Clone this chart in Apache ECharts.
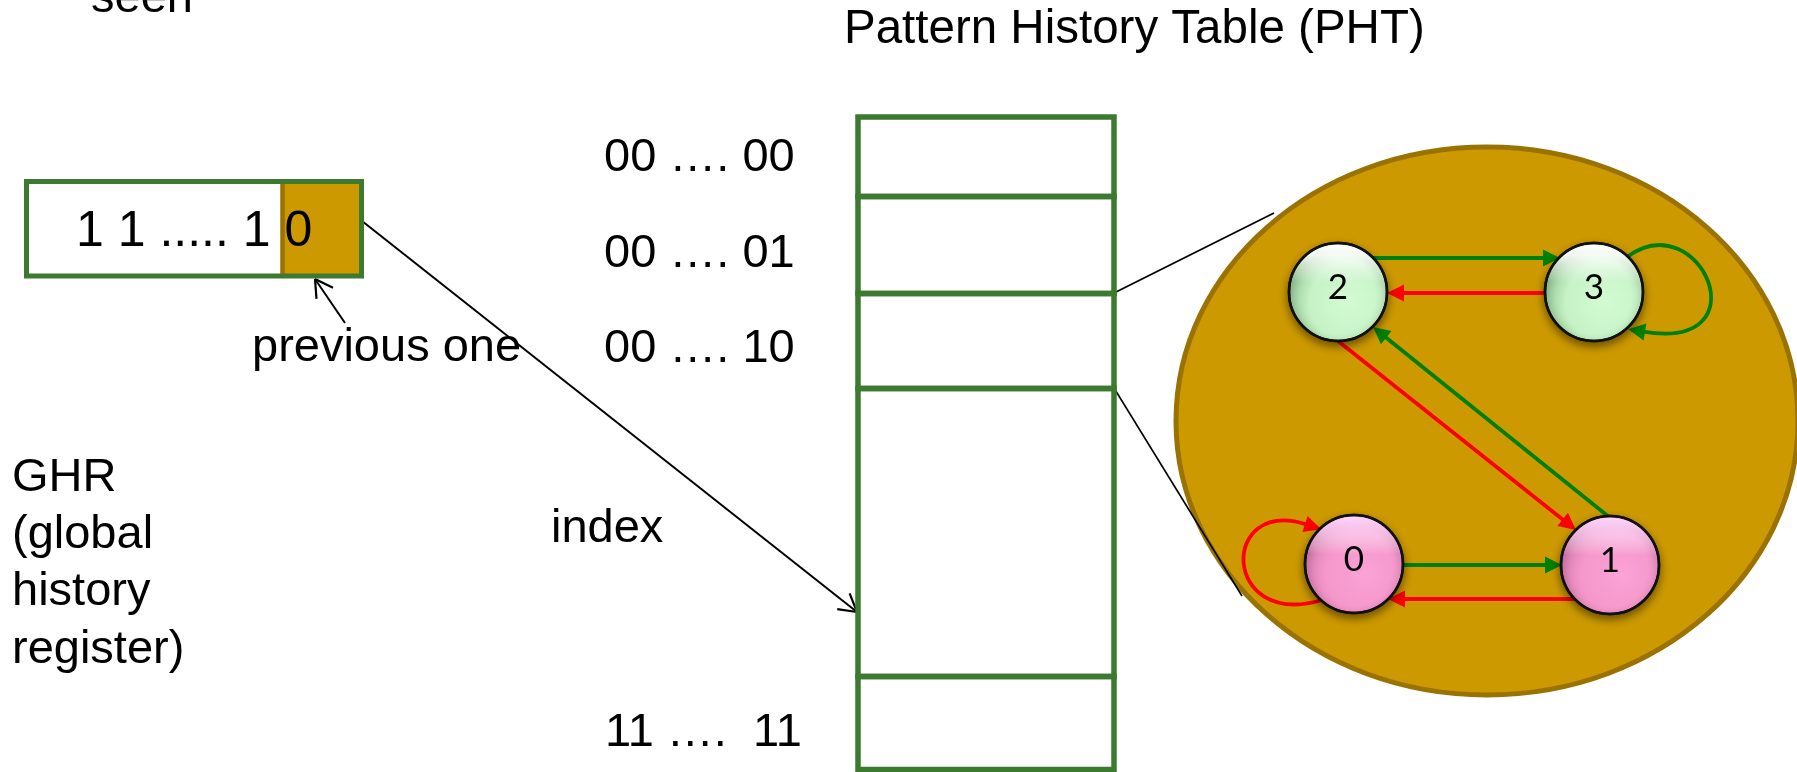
<!DOCTYPE html>
<html>
<head>
<meta charset="utf-8">
<script src="https://cdn.jsdelivr.net/npm/echarts@6.0.0/dist/echarts.min.js"></script>
<style>
html,body{margin:0;padding:0;background:#ffffff;}
#chart{width:1797px;height:772px;}
</style>
</head>
<body>
<div id="chart"></div>
<script>
// ---------------- DATA (diagram coordinates on hidden value axes) ----------------
const canvasW = 1797, canvasH = 772;

// Free text labels: text, left x, baseline y
const labelTexts = ['seen', 'Pattern History Table (PHT)', 'previous one',
  '00 …. 00', '00 …. 01', '00 …. 10', 'index', '11 ….  11',
  'GHR', '(global', 'history', 'register)'];
const labelX = [91, 844, 252, 604, 604, 604, 551, 605, 12, 12, 12, 12];
const labelY = [14, 45, 363, 173, 269, 364, 544, 748, 493, 550, 607, 665];

// Global history register content
const ghrBits = '1 1 ..... 1 0';
const ghrTextPos = [76, 248];
const ghrBox = [26.5, 181.5, 361.5, 276];   // x0, y0, x1, y1
const ghrLastBitX = 282.5;                  // start of the most recent bit cell

// Pattern history table rows (boundaries)
const phtX = [858, 1114];
const phtRowEdges = [117, 196.5, 293.5, 388.5, 676.5, 769.5];

// Pointer lines: [x1, y1, x2, y2], with open arrow head or plain
const pointerFrom = [[345, 323], [362, 221], [1114, 293], [1114, 388]];
const pointerTo   = [[315, 279], [857, 612], [1274, 213], [1242, 596]];
const pointerHead = [true, true, false, false];

// Zoomed state machine (2-bit saturating counter)
const zoomEllipse = [1487, 421, 311, 274];  // cx, cy, rx, ry
const stateLabels = ['0', '1', '2', '3'];
const statePrediction = ['N', 'N', 'T', 'T'];
const stateCX = [1354, 1610, 1338, 1594];
const stateCY = [564, 565, 292, 292];
const stateR = 49;

// Transitions: outcome T (taken, green) / N (not taken, red)
const edgeOutcome = ['T', 'N', 'T', 'N', 'N', 'T'];
const edgeStart = [[1372, 258], [1546, 293], [1609, 517], [1338, 341], [1575, 599], [1402, 565]];
const edgeEnd   = [[1560, 258], [1387, 293], [1373, 327], [1576, 530], [1388, 599], [1562, 565]];

// Self loops (cubic bezier: start, cp1, cp2, end)
const loopOutcome = ['T', 'N'];
const loopCurves = [
  [[1627, 257], [1700, 203], [1765, 352], [1645, 332]],
  [[1322, 600], [1221, 630], [1219, 496], [1305, 524]]
];

// ---------------- RENDERING ----------------
const FONT = '"Liberation Sans", Arial, Helvetica, sans-serif';
const GREEN_BOX = '#3b7a2f';
const GOLD = '#cc9900';
const GOLD_DARK = '#9a7200';
const EDGE_COLOR = { T: '#008000', N: '#ff0000' };

function P(api, x, y) { return api.coord([x, y]); }

function arrowHead(tip, ux, uy, len, half, color) {
  const bx = tip[0] - ux * len, by = tip[1] - uy * len;
  return {
    type: 'polygon',
    shape: { points: [[tip[0], tip[1]], [bx - uy * half, by + ux * half], [bx + uy * half, by - ux * half]] },
    style: { fill: color }
  };
}

const chart = echarts.init(document.getElementById('chart'), null, { renderer: 'canvas' });

const option = {
  animation: false,
  backgroundColor: '#ffffff',
  grid: { left: 0, right: 0, top: 0, bottom: 0 },
  xAxis: { type: 'value', min: 0, max: canvasW, show: false },
  yAxis: { type: 'value', min: 0, max: canvasH, inverse: true, show: false },
  tooltip: { show: false },
  series: [
    // zoom ellipse
    {
      type: 'custom', coordinateSystem: 'cartesian2d', silent: true, z: 1,
      data: [zoomEllipse],
      renderItem: (params, api) => {
        const c = P(api, api.value(0), api.value(1));
        const e = P(api, api.value(0) + api.value(2), api.value(1) + api.value(3));
        return {
          type: 'ellipse',
          shape: { cx: c[0], cy: c[1], rx: e[0] - c[0], ry: e[1] - c[1] },
          style: { fill: GOLD, stroke: GOLD_DARK, lineWidth: 5 }
        };
      }
    },
    // pointer lines
    {
      type: 'custom', coordinateSystem: 'cartesian2d', silent: true, z: 2,
      data: pointerFrom.map((f, i) => [f[0], f[1], pointerTo[i][0], pointerTo[i][1]]),
      renderItem: (params, api) => {
        const a = P(api, api.value(0), api.value(1));
        const b = P(api, api.value(2), api.value(3));
        const head = pointerHead[params.dataIndex];
        const children = [{
          type: 'line', shape: { x1: a[0], y1: a[1], x2: b[0], y2: b[1] },
          style: { stroke: '#000', lineWidth: head ? 2 : 1.6 }
        }];
        if (head) {
          const dx = a[0] - b[0], dy = a[1] - b[1];
          const ang = Math.atan2(dy, dx), len = 20, w = Math.PI / 6;
          [ang - w, ang + w].forEach(t => children.push({
            type: 'line',
            shape: { x1: b[0], y1: b[1], x2: b[0] + Math.cos(t) * len, y2: b[1] + Math.sin(t) * len },
            style: { stroke: '#000', lineWidth: 2.2 }
          }));
        }
        return { type: 'group', children };
      }
    },
    // PHT rows
    {
      type: 'custom', coordinateSystem: 'cartesian2d', silent: true, z: 3,
      data: phtRowEdges.slice(0, -1).map((y, i) => [phtX[0], y, phtX[1], phtRowEdges[i + 1]]),
      renderItem: (params, api) => {
        const a = P(api, api.value(0), api.value(1));
        const b = P(api, api.value(2), api.value(3));
        return {
          type: 'rect',
          shape: { x: a[0], y: a[1], width: b[0] - a[0], height: b[1] - a[1] },
          style: { fill: 'rgba(255,255,255,0)', stroke: GREEN_BOX, lineWidth: 5.5 }
        };
      }
    },
    // GHR register box
    {
      type: 'custom', coordinateSystem: 'cartesian2d', silent: true, z: 3,
      data: [[ghrBox[0], ghrBox[1], ghrBox[2], ghrBox[3], ghrLastBitX]],
      renderItem: (params, api) => {
        const a = P(api, api.value(0), api.value(1));
        const b = P(api, api.value(2), api.value(3));
        const s = P(api, api.value(4), api.value(1));
        return {
          type: 'group', children: [
            { type: 'rect', shape: { x: a[0], y: a[1], width: b[0] - a[0], height: b[1] - a[1] }, style: { fill: '#fff' } },
            { type: 'rect', shape: { x: s[0], y: a[1], width: b[0] - s[0], height: b[1] - a[1] }, style: { fill: GOLD } },
            { type: 'line', shape: { x1: s[0], y1: a[1], x2: s[0], y2: b[1] }, style: { stroke: GOLD_DARK, lineWidth: 4.5 } },
            { type: 'rect', shape: { x: a[0], y: a[1], width: b[0] - a[0], height: b[1] - a[1] }, style: { fill: 'rgba(0,0,0,0)', stroke: GREEN_BOX, lineWidth: 5 } }
          ]
        };
      }
    },
    // text labels
    {
      type: 'custom', coordinateSystem: 'cartesian2d', silent: true, z: 5,
      data: labelTexts.map((t, i) => [labelX[i], labelY[i]]).concat([[ghrTextPos[0], ghrTextPos[1]]]),
      renderItem: (params, api) => {
        const i = params.dataIndex;
        const isBits = i === labelTexts.length;
        const fs = isBits ? 50 : (i === 1 ? 47.5 : 47);
        const p = P(api, api.value(0), api.value(1));
        return {
          type: 'text', x: p[0], y: p[1] - 0.31 * fs,
          style: {
            text: isBits ? ghrBits : labelTexts[i],
            font: fs + 'px ' + FONT, fill: '#000',
            align: 'left', verticalAlign: 'middle'
          }
        };
      }
    },
    // transitions
    {
      type: 'custom', coordinateSystem: 'cartesian2d', silent: true, z: 6,
      data: edgeStart.map((s, i) => [s[0], s[1], edgeEnd[i][0], edgeEnd[i][1]]),
      renderItem: (params, api) => {
        const a = P(api, api.value(0), api.value(1));
        const b = P(api, api.value(2), api.value(3));
        const color = EDGE_COLOR[edgeOutcome[params.dataIndex]];
        const dx = b[0] - a[0], dy = b[1] - a[1], L = Math.hypot(dx, dy);
        const ux = dx / L, uy = dy / L, len = 17;
        return {
          type: 'group', children: [
            { type: 'line', shape: { x1: a[0], y1: a[1], x2: b[0] - ux * (len - 2), y2: b[1] - uy * (len - 2) }, style: { stroke: color, lineWidth: 3.8 } },
            arrowHead(b, ux, uy, len, 8.5, color)
          ]
        };
      }
    },
    // self loops
    {
      type: 'custom', coordinateSystem: 'cartesian2d', silent: true, z: 6,
      data: loopCurves.map(c => [c[0][0], c[0][1], c[1][0], c[1][1], c[2][0], c[2][1], c[3][0], c[3][1]]),
      renderItem: (params, api) => {
        const p0 = P(api, api.value(0), api.value(1));
        const c1 = P(api, api.value(2), api.value(3));
        const c2 = P(api, api.value(4), api.value(5));
        const p3 = P(api, api.value(6), api.value(7));
        const color = EDGE_COLOR[loopOutcome[params.dataIndex]];
        const dx = p3[0] - c2[0], dy = p3[1] - c2[1], L = Math.hypot(dx, dy);
        const ux = dx / L, uy = dy / L, len = 17;
        const tip = [p3[0] + ux * len, p3[1] + uy * len];
        return {
          type: 'group', children: [
            { type: 'bezierCurve', shape: { x1: p0[0], y1: p0[1], cpx1: c1[0], cpy1: c1[1], cpx2: c2[0], cpy2: c2[1], x2: p3[0] + ux * 2, y2: p3[1] + uy * 2 }, style: { stroke: color, lineWidth: 3.8, fill: null } },
            arrowHead(tip, ux, uy, len, 8.5, color)
          ]
        };
      }
    },
    // state nodes
    {
      type: 'custom', coordinateSystem: 'cartesian2d', silent: true, z: 7,
      data: stateLabels.map((s, i) => [stateCX[i], stateCY[i]]),
      renderItem: (params, api) => {
        const i = params.dataIndex;
        const c = P(api, api.value(0), api.value(1));
        const taken = statePrediction[i] === 'T';
        const base = taken
          ? new echarts.graphic.RadialGradient(0.62, 0.6, 0.62, [
              { offset: 0, color: '#d3fbd3' }, { offset: 0.65, color: '#c6f2c6' }, { offset: 1, color: '#98c998' }])
          : new echarts.graphic.RadialGradient(0.62, 0.6, 0.62, [
              { offset: 0, color: '#fba2d6' }, { offset: 0.65, color: '#f597cb' }, { offset: 1, color: '#d97eb0' }]);
        const shine = new echarts.graphic.LinearGradient(0, 0, 0, 1, [
          { offset: 0, color: taken ? 'rgba(255,255,255,1)' : 'rgba(255,215,250,1)' },
          { offset: 0.12, color: taken ? 'rgba(255,255,255,0.85)' : 'rgba(255,210,248,0.8)' },
          { offset: 0.4, color: 'rgba(255,255,255,0)' },
          { offset: 1, color: 'rgba(255,255,255,0)' }]);
        return {
          type: 'group', children: [
            { type: 'circle', shape: { cx: c[0], cy: c[1], r: stateR },
              style: { fill: base, stroke: '#111', lineWidth: 2.5, shadowBlur: 8, shadowOffsetY: 4, shadowColor: 'rgba(0,0,0,0.45)' } },
            { type: 'circle', shape: { cx: c[0], cy: c[1], r: stateR - 1.5 }, style: { fill: shine } },
            { type: 'circle', shape: { cx: c[0], cy: c[1], r: stateR }, style: { fill: 'rgba(0,0,0,0)', stroke: '#111', lineWidth: 2.5 } },
            { type: 'text', x: c[0], y: c[1] - 4,
              style: { text: stateLabels[i], font: '35px Lato, "Open Sans", sans-serif', fill: '#000', align: 'center', verticalAlign: 'middle' } }
          ]
        };
      }
    }
  ]
};
chart.setOption(option);
</script>
</body>
</html>
